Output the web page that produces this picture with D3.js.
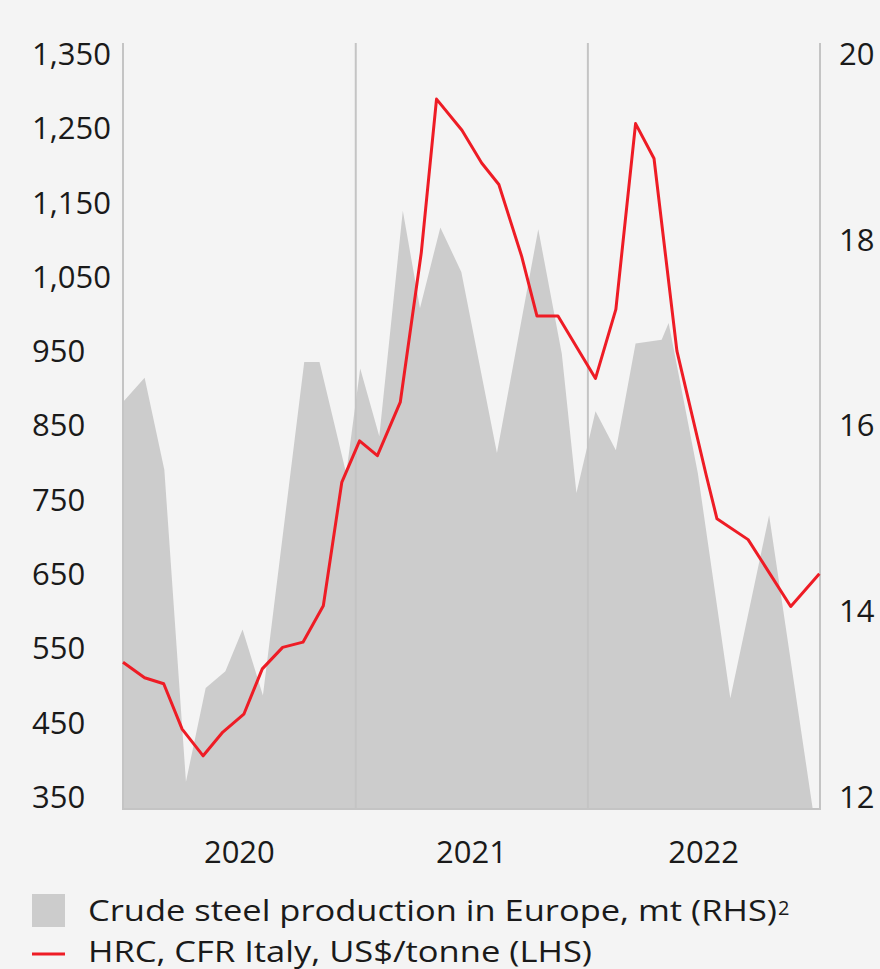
<!DOCTYPE html>
<html>
<head>
<meta charset="utf-8">
<script src="https://cdn.jsdelivr.net/npm/d3@7"></script>
<style>
  html, body { margin: 0; padding: 0; background: #f4f4f4; }
  svg { display: block; }
  text { font-family: "Open Sans", sans-serif; fill: #1a1a1a; }
</style>
</head>
<body>
<svg id="chart" width="880" height="969"></svg>
<script>
// ---- Data ----
const steelDates = ["2020-01-01","2020-02-04","2020-03-06","2020-04-09","2020-05-10","2020-06-10","2020-07-07","2020-08-08","2020-10-12","2020-11-05","2020-12-17","2021-01-08","2021-02-07","2021-03-16","2021-04-12","2021-05-14","2021-06-16","2021-08-11","2021-10-15","2021-11-21","2021-12-14","2022-01-13","2022-02-14","2022-03-17","2022-04-27","2022-05-08","2022-06-23","2022-08-13","2022-10-13","2023-01-01"];
const steelValues = [16.25,16.51,15.52,12.16,13.17,13.35,13.80,13.09,16.68,16.68,15.48,16.61,15.88,18.31,17.26,18.13,17.65,15.70,18.11,16.77,15.27,16.15,15.73,16.88,16.92,17.10,15.48,13.06,15.03,11.34];

const hrcDates = ["2020-01-01","2020-02-04","2020-03-05","2020-04-03","2020-05-06","2020-06-06","2020-07-09","2020-08-07","2020-09-08","2020-10-10","2020-11-11","2020-12-10","2021-01-07","2021-02-04","2021-03-12","2021-04-14","2021-05-08","2021-06-17","2021-07-18","2021-08-14","2021-09-19","2021-10-13","2021-11-15","2022-01-13","2022-02-14","2022-03-17","2022-04-15","2022-05-21","2022-07-06","2022-07-23","2022-09-10","2022-11-16","2022-12-31"];
const hrcValues = [531,510,502,441,405,437,461,522,551,558,607,773,829,809,881,1082,1289,1247,1203,1174,1077,997,997,913,1006,1256,1209,950,783,724,696,606,650];

const leftTicks = [350,450,550,650,750,850,950,1050,1150,1250,1350];
const rightTicks = [12,14,16,18,20];
const yearLabels = ["2020","2021","2022"];
const legendLabels = ["Crude steel production in Europe, mt (RHS)", "HRC, CFR Italy, US$/tonne (LHS)"];

// ---- Layout ----
const L = 123, R = 820, T = 43, B = 809;
const parse = d3.timeParse("%Y-%m-%d");
const svg = d3.select("#chart");

const x = d3.scaleTime().domain([new Date(2020,0,1), new Date(2023,0,1)]).range([L, R]);
const yL = d3.scaleLinear().domain([333.4, 1364.5]).range([B, T]);
const yR = d3.scaleLinear().domain([12 + (333.4-350)/125, 12 + (1364.5-350)/125]).range([B, T]);

svg.append("defs").append("clipPath").attr("id","clip")
  .append("rect").attr("x", L).attr("y", T).attr("width", R-L).attr("height", B-T);

const steel = steelDates.map((d,i)=>({date: parse(d), v: steelValues[i]}));
const hrc = hrcDates.map((d,i)=>({date: parse(d), v: hrcValues[i]}));

// Area
svg.append("path")
  .datum(steel)
  .attr("clip-path","url(#clip)")
  .attr("fill","#cccccc")
  .attr("d", d3.area().x(d=>x(d.date)).y0(B).y1(d=>yR(d.v)));

// Gridlines (year boundaries) and borders
const bounds = [2020,2021,2022,2023].map(y=>new Date(y,0,1));
svg.append("g").selectAll("line").data(bounds).join("line")
  .attr("x1", d=>x(d)).attr("x2", d=>x(d))
  .attr("y1", T).attr("y2", B)
  .attr("stroke", "#c4c4c4").attr("stroke-width", 2);
svg.append("line").attr("x1", L-1).attr("x2", R+1).attr("y1", B).attr("y2", B)
  .attr("stroke", "#c4c4c4").attr("stroke-width", 2);

// Line
svg.append("path")
  .datum(hrc)
  .attr("fill","none")
  .attr("stroke","#ee1c25")
  .attr("stroke-width", 3)
  .attr("stroke-linejoin","round")
  .attr("d", d3.line().x(d=>x(d.date)).y(d=>yL(d.v)));

// Left tick labels
svg.append("g").selectAll("text").data(leftTicks).join("text")
  .attr("x", 32).attr("y", d=>yL(d)).attr("dy", "0.36em")
  .attr("text-anchor","start").attr("font-size", 31)
  .text(d=>d3.format(",")(d));

// Right tick labels
svg.append("g").selectAll("text").data(rightTicks).join("text")
  .attr("x", 839).attr("y", d=>yR(d)).attr("dy", "0.36em")
  .attr("text-anchor","start").attr("font-size", 31)
  .text(d=>d);

// Year labels
svg.append("g").selectAll("text").data(yearLabels).join("text")
  .attr("x", d=>x(new Date(+d,6,2))).attr("y", 863)
  .attr("text-anchor","middle").attr("font-size", 31)
  .text(d=>d);

// Legend
svg.append("rect").attr("x", 32).attr("y", 894).attr("width", 33).attr("height", 33).attr("fill","#cccccc");
svg.append("line").attr("x1", 32).attr("x2", 65).attr("y1", 954).attr("y2", 954)
  .attr("stroke","#ee1c25").attr("stroke-width", 3);
svg.append("text").attr("x", 88).attr("y", 921).attr("font-size", 30)
  .attr("textLength", 689).attr("lengthAdjust", "spacingAndGlyphs")
  .text(legendLabels[0]);
svg.append("text").attr("x", 778).attr("y", 915).attr("font-size", 20).text("2");
svg.append("text").attr("x", 88).attr("y", 962).attr("font-size", 30)
  .attr("textLength", 504).attr("lengthAdjust", "spacingAndGlyphs")
  .text(legendLabels[1]);
</script>
</body>
</html>
